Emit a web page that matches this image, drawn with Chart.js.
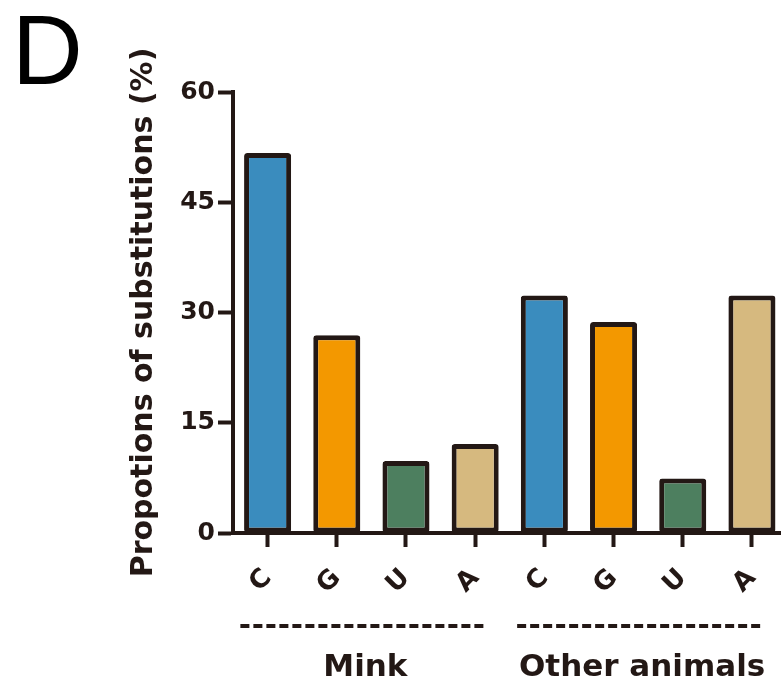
<!DOCTYPE html>
<html>
<head>
<meta charset="utf-8">
<script src="https://cdn.jsdelivr.net/npm/chart.js@4.4.1/dist/chart.umd.min.js"></script>
<style>
  html, body { margin: 0; padding: 0; background: #fff; overflow: hidden; }
  #wrap { position: absolute; left: 0; top: 0; width: 790px; height: 683px; }
</style>
</head>
<body>
<div id="wrap"><canvas id="c" width="790" height="683"></canvas></div>
<script>
// ---- data ----
const categories = ['C', 'G', 'U', 'A', 'C', 'G', 'U', 'A'];
const values = [51.7, 26.9, 9.8, 12.1, 32.3, 28.7, 7.4, 32.3];
const groupLabels = ['Mink', 'Other animals'];
const groupStart = [0, 4];
const groupEnd = [3, 7];
const yTicks = [0, 15, 30, 45, 60];
const panelLetter = 'D';
const yTitle = 'Propotions of substitutions (%)';

// ---- styles ----
const INK = '#231815';
const nucColor = { C: '#3a8cbe', G: '#f39800', U: '#4d7f5f', A: '#d6b97f' };
const FONT = '"DejaVu Sans", sans-serif';

const extras = {
  id: 'extras',
  afterDraw(chart) {
    const ctx = chart.ctx;
    const x = chart.scales.x;
    ctx.save();
    // panel letter
    ctx.fillStyle = '#000';
    ctx.font = '98px "Liberation Sans", Arial, sans-serif';
    ctx.textAlign = 'left';
    ctx.textBaseline = 'alphabetic';
    ctx.fillText(panelLetter, 12, 84);
    // group brackets and labels
    ctx.strokeStyle = INK;
    ctx.fillStyle = INK;
    ctx.lineWidth = 4;
    ctx.setLineDash([9, 4]);
    ctx.font = 'bold 31px ' + FONT;
    ctx.textAlign = 'center';
    for (let g = 0; g < groupLabels.length; g++) {
      const xs = x.getPixelForValue(groupStart[g]);
      const xe = x.getPixelForValue(groupEnd[g]);
      const cx = (xs + xe) / 2 - 8;
      ctx.beginPath();
      ctx.moveTo(cx - 123, 626);
      ctx.lineTo(cx + 123, 626);
      ctx.stroke();
      ctx.fillText(groupLabels[g], cx + 2, 676);
    }
    ctx.restore();
  }
};

new Chart(document.getElementById('c'), {
  type: 'bar',
  data: {
    labels: categories,
    datasets: [{
      data: values,
      backgroundColor: categories.map(c => nucColor[c]),
      borderColor: INK,
      borderWidth: 5,
      borderRadius: 3,
      borderSkipped: false,
      barPercentage: 0.68,
      categoryPercentage: 1.0
    }]
  },
  options: {
    responsive: false,
    animation: false,
    devicePixelRatio: 1,
    layout: { padding: { top: 92, right: 0, left: 0, bottom: 0 } },
    plugins: { legend: { display: false }, tooltip: { enabled: false } },
    scales: {
      x: {
        offset: true,
        grid: { offset: false, drawOnChartArea: false, drawTicks: true, tickLength: 14, tickWidth: 4, color: INK },
        border: { display: true, color: INK, width: 4 },
        ticks: {
          color: INK,
          font: { family: FONT, weight: 'bold', size: 26 },
          minRotation: 45, maxRotation: 45,
          padding: 16
        },
        afterFit(s) { s.height = 150; }
      },
      y: {
        min: 0, max: 60,
        afterBuildTicks(s) { s.ticks = yTicks.map(v => ({ value: v })); },
        grid: { drawOnChartArea: false, drawTicks: true, tickLength: 15, tickWidth: 4, color: INK },
        border: { display: true, color: INK, width: 4 },
        ticks: {
          color: INK,
          font: { family: FONT, weight: 'bold', size: 25 },
          padding: 3
        },
        title: {
          display: true,
          text: yTitle,
          color: INK,
          font: { family: FONT, weight: 'bold', size: 30 },
          padding: { top: 126, bottom: 0 }
        },
        afterFit(s) { s.width = 233; }
      }
    }
  },
  plugins: [extras]
});
</script>
</body>
</html>
